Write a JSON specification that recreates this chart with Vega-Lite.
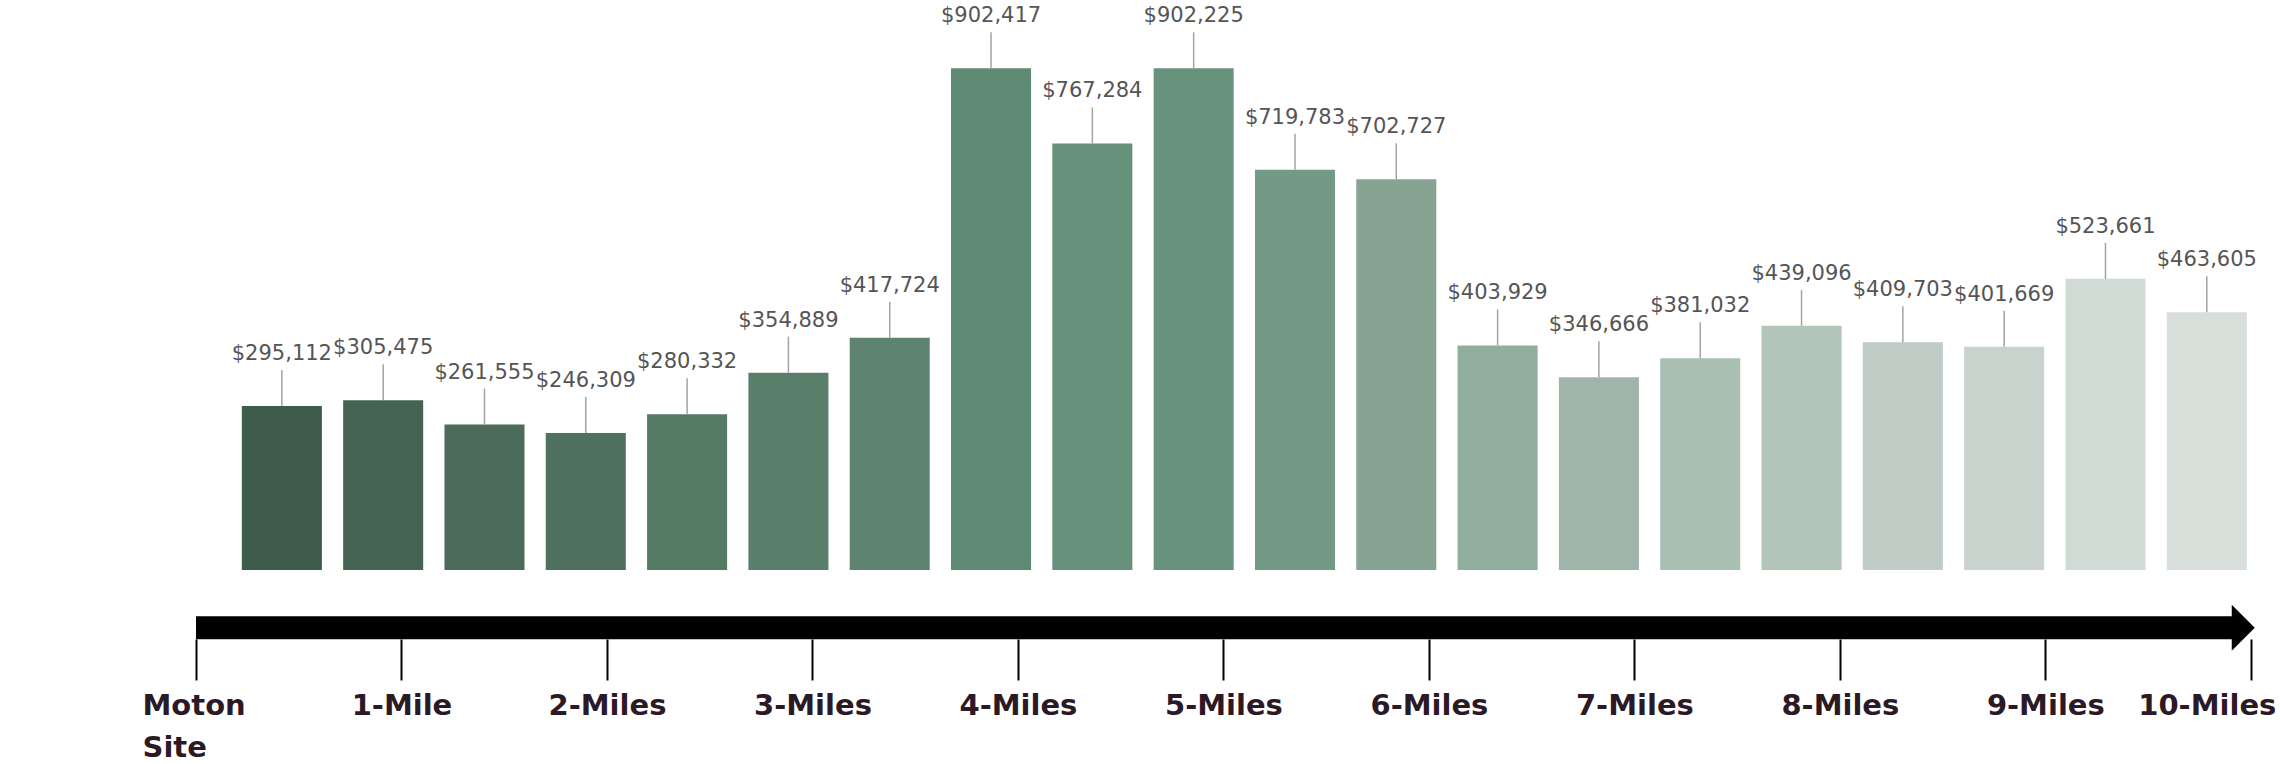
{
  "$schema": "https://vega.github.io/schema/vega-lite/v6.json",
  "width": 2084,
  "height": 556,
  "autosize": {"type": "none"},
  "padding": {"left": 196, "top": 14, "right": 0, "bottom": 194},
  "background": "white",
  "config": {"view": {"stroke": null}},
  "datasets": {
    "bars": [
      {"band": "0.0-0.5 mi", "value": 295112},
      {"band": "0.5-1.0 mi", "value": 305475},
      {"band": "1.0-1.5 mi", "value": 261555},
      {"band": "1.5-2.0 mi", "value": 246309},
      {"band": "2.0-2.5 mi", "value": 280332},
      {"band": "2.5-3.0 mi", "value": 354889},
      {"band": "3.0-3.5 mi", "value": 417724},
      {"band": "3.5-4.0 mi", "value": 902417},
      {"band": "4.0-4.5 mi", "value": 767284},
      {"band": "4.5-5.0 mi", "value": 902225},
      {"band": "5.0-5.5 mi", "value": 719783},
      {"band": "5.5-6.0 mi", "value": 702727},
      {"band": "6.0-6.5 mi", "value": 403929},
      {"band": "6.5-7.0 mi", "value": 346666},
      {"band": "7.0-7.5 mi", "value": 381032},
      {"band": "7.5-8.0 mi", "value": 439096},
      {"band": "8.0-8.5 mi", "value": 409703},
      {"band": "8.5-9.0 mi", "value": 401669},
      {"band": "9.0-9.5 mi", "value": 523661},
      {"band": "9.5-10.0 mi", "value": 463605}
    ]
  },
  "layer": [
    {
      "data": {"name": "bars"},
      "encoding": {
        "x": {
          "field": "band",
          "type": "ordinal",
          "sort": null,
          "scale": {"paddingInner": 0.21, "paddingOuter": 0.39, "align": 0.58},
          "axis": null
        },
        "y": {
          "field": "value",
          "type": "quantitative",
          "scale": {"domain": [0, 1000000], "nice": false},
          "axis": {
            "values": [0, 100000, 200000, 300000, 400000, 500000, 600000, 700000, 800000, 900000, 1000000],
            "format": "$,.0f",
            "domain": false,
            "ticks": false,
            "tickSize": 0,
            "grid": false,
            "labelFont": "DejaVu Sans",
            "labelFontSize": 23,
            "labelColor": "#666666",
            "labelPadding": 64,
            "title": null
          }
        }
      },
      "layer": [
        {
          "mark": {"type": "bar"},
          "encoding": {
            "color": {
              "field": "band",
              "type": "nominal",
              "sort": null,
              "scale": {
                "domain": ["0.0-0.5 mi", "0.5-1.0 mi", "1.0-1.5 mi", "1.5-2.0 mi", "2.0-2.5 mi", "2.5-3.0 mi", "3.0-3.5 mi", "3.5-4.0 mi", "4.0-4.5 mi", "4.5-5.0 mi", "5.0-5.5 mi", "5.5-6.0 mi", "6.0-6.5 mi", "6.5-7.0 mi", "7.0-7.5 mi", "7.5-8.0 mi", "8.0-8.5 mi", "8.5-9.0 mi", "9.0-9.5 mi", "9.5-10.0 mi"],
                "range": ["#3f5b4b", "#466454", "#4d6b5b", "#50715f", "#557a64", "#597f6b", "#5e8470", "#5f8a73", "#66907a", "#67937c", "#729a84", "#87a493", "#91ad9d", "#9fb5a9", "#a9bfb2", "#b3c5bb", "#bfccc5", "#c8d3cd", "#d0dbd6", "#d8dfdb"]
              },
              "legend": null
            }
          }
        },
        {
          "mark": {"type": "rule", "color": "#a3a3a3", "strokeWidth": 1.5, "y2Offset": -36},
          "encoding": {"y2": {"field": "value"}}
        },
        {
          "mark": {"type": "text", "dy": -46, "baseline": "alphabetic", "align": "center", "font": "DejaVu Sans", "fontSize": 21, "color": "#555555"},
          "encoding": {"text": {"field": "value", "type": "quantitative", "format": "$,.0f"}}
        }
      ]
    },
    {
      "layer": [
        {
          "data": {"values": [{}]},
          "mark": {"type": "rule", "color": "#000000", "strokeWidth": 23, "strokeCap": "butt"},
          "encoding": {
            "x": {
              "datum": 0,
              "type": "quantitative",
              "scale": {"domain": [0, 10.142], "nice": false, "zero": false},
              "axis": {
                "values": [0, 1, 2, 3, 4, 5, 6, 7, 8, 9, 10],
                "orient": "bottom",
                "offset": 69,
                "domain": false,
                "grid": false,
                "ticks": true,
                "tickSize": 41,
                "tickWidth": 2,
                "tickColor": "#000000",
                "labelExpr": "datum.value == 0 ? ['Moton', 'Site'] : (datum.value == 1 ? '1-Mile' : datum.value + '-Miles')",
                "labelAlign": {
                  "condition": [
                    {"test": "datum.value == 0", "value": "left"},
                    {"test": "datum.value == 10", "value": "right"}
                  ],
                  "value": "center"
                },
                "labelOffset": {
                  "condition": {"test": "datum.value == 10", "value": 25},
                  "value": 0
                },
                "labelFont": "DejaVu Sans",
                "labelFontWeight": "bold",
                "labelFontSize": 29,
                "labelColor": "#2b1a26",
                "labelPadding": 11,
                "labelFlush": 5,
                "labelFlushOffset": 54,
                "labelOverlap": false,
                "labelBound": false,
                "labelLineHeight": 42,
                "title": null
              }
            },
            "x2": {"datum": 9.91},
            "y": {"datum": -104000, "type": "quantitative", "axis": null}
          }
        },
        {
          "data": {"values": [{}]},
          "mark": {"type": "point", "shape": "M-0.5,-1L0.5,0L-0.5,1Z", "size": 2116, "filled": true, "color": "#000000", "opacity": 1},
          "encoding": {
            "x": {"datum": 9.963, "type": "quantitative"},
            "y": {"datum": -104000, "type": "quantitative", "axis": null}
          }
        }
      ]
    }
  ],
  "resolve": {"scale": {"x": "independent"}, "axis": {"x": "independent"}}
}
